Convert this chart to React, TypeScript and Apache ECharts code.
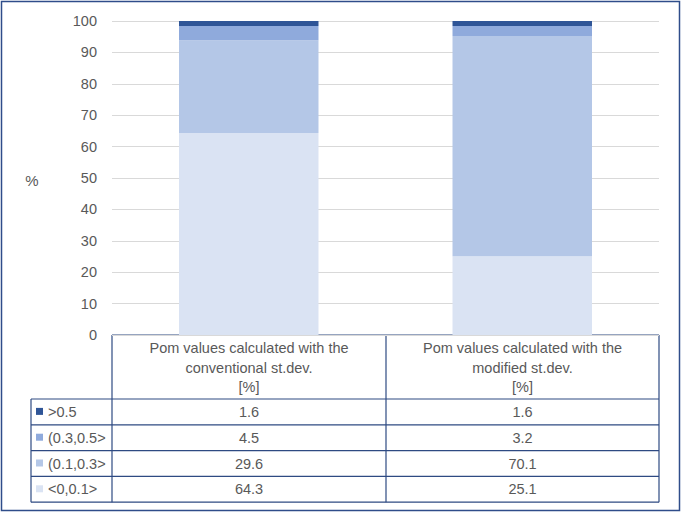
import React, { useEffect, useRef } from "react";
import * as echarts from "echarts";

const categories = [
  "Pom values calculated with the\nconventional st.dev.\n[%]",
  "Pom values calculated with the\nmodified st.dev.\n[%]",
];
const seriesNames = ["<0,0.1>", "(0.1,0.3>", "(0.3,0.5>", ">0.5"];
const seriesColors = ["#DAE3F3", "#B4C7E7", "#8FAADC", "#2F5597"];
const lowValues = [64.3, 25.1];
const midLowValues = [29.6, 70.1];
const midHighValues = [4.5, 3.2];
const highValues = [1.6, 1.6];
const yTicks = [0, 100, 10];

export default function App() {
  const ref = useRef<HTMLDivElement>(null);
  useEffect(() => {
    document.body.style.margin = "0";
    const chart = echarts.init(ref.current!, null, { renderer: "svg" });
    const values = [lowValues, midLowValues, midHighValues, highValues];
    const font = "'Liberation Sans', Arial, sans-serif";
    const txt = "#595959";
    const line = "#2E4A82";
    const tfs = 14.5;

    // table geometry
    const xL = 31, xA = 112, xB = 386, xR = 659;
    const yTop = 335, yHead = 399;
    const rowH = 25.8;
    const colCenters = [(xA + xB) / 2, (xB + xR) / 2];
    const graphics: any[] = [];
    const seg = (x1: number, y1: number, x2: number, y2: number) =>
      graphics.push({
        type: "line",
        shape: { x1, y1, x2, y2 },
        style: { stroke: line, lineWidth: 1.2 },
        silent: true,
      });
    seg(xA, yTop, xR, yTop);
    for (let i = 0; i <= 4; i++) {
      const y = yHead + i * rowH;
      seg(xL, y, xR, y);
    }
    const yBot = yHead + 4 * rowH;
    seg(xA, yTop, xA, yBot);
    seg(xB, yTop, xB, yBot);
    seg(xR, yTop, xR, yBot);
    seg(xL, yHead, xL, yBot);

    categories.forEach((c, ci) => {
      graphics.push({
        type: "text",
        x: colCenters[ci],
        y: (yTop + yHead) / 2 + 0.5,
        style: {
          text: c,
          fill: txt,
          font: `${tfs}px ${font}`,
          align: "center",
          verticalAlign: "middle",
          lineHeight: 19.5,
        },
      });
    });
    // rows: top row is last series
    const rowOrder = [3, 2, 1, 0];
    rowOrder.forEach((si, ri) => {
      const yc = yHead + ri * rowH + rowH / 2;
      graphics.push({
        type: "rect",
        shape: { x: 36, y: yc - 4, width: 7, height: 7 },
        style: { fill: seriesColors[si] },
      });
      graphics.push({
        type: "text",
        x: 48,
        y: yc,
        style: {
          text: seriesNames[si],
          fill: txt,
          font: `${tfs}px ${font}`,
          align: "left",
          verticalAlign: "middle",
        },
      });
      values[si].forEach((v, ci) => {
        graphics.push({
          type: "text",
          x: colCenters[ci],
          y: yc,
          style: {
            text: v.toFixed(1),
            fill: txt,
            font: `${tfs}px ${font}`,
            align: "center",
            verticalAlign: "middle",
          },
        });
      });
    });
    graphics.push({
      type: "text",
      x: 32,
      y: 180,
      style: {
        text: "%",
        fill: txt,
        font: `15px ${font}`,
        align: "center",
        verticalAlign: "middle",
      },
    });
    graphics.push({
      type: "rect",
      shape: { x: 1.5, y: 1.5, width: 678, height: 509 },
      style: { fill: "none", stroke: "#2F4D8A", lineWidth: 1.5 },
      silent: true,
    });

    chart.setOption({
      animation: false,
      backgroundColor: "#ffffff",
      grid: { left: xA, right: 685 - xR, top: 21, bottom: 517 - yTop },
      xAxis: {
        type: "category",
        data: categories,
        axisLine: { show: false },
        axisTick: { show: false },
        axisLabel: { show: false },
      },
      yAxis: {
        type: "value",
        min: yTicks[0],
        max: yTicks[1],
        interval: yTicks[2],
        axisLine: { show: false },
        axisTick: { show: false },
        splitLine: { lineStyle: { color: "#D9D9D9", width: 1 } },
        axisLabel: {
          color: txt,
          fontSize: 14.5,
          fontFamily: font,
          margin: 15,
        },
      },
      series: seriesNames.map((n, i) => ({
        name: n,
        type: "bar",
        stack: "total",
        barWidth: "51%",
        data: values[i],
        itemStyle: { color: seriesColors[i] },
      })),
      graphic: graphics,
    });
    return () => chart.dispose();
  }, []);
  return <div ref={ref} style={{ width: 685, height: 517 }} />;
}
